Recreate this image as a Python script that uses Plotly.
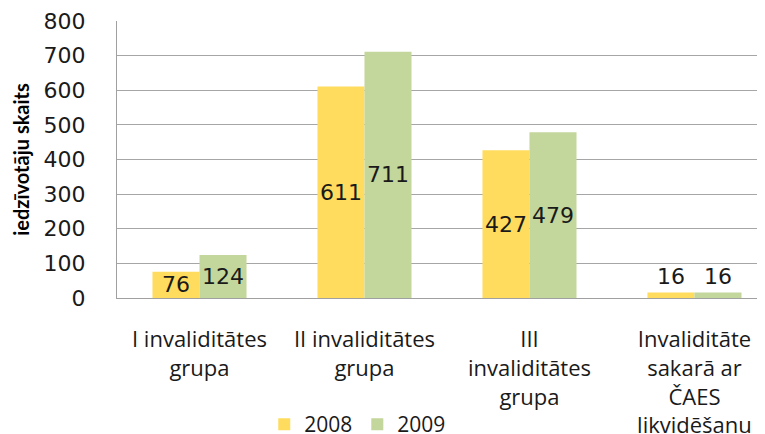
import plotly.graph_objects as go

categories = ["I invaliditātes<br>grupa", "II invaliditātes<br>grupa",
              "III<br>invaliditātes<br>grupa",
              "Invaliditāte<br>sakarā ar<br>ČAES<br>likvidēšanu"]
values_2008 = [76, 611, 427, 16]
values_2009 = [124, 711, 479, 16]
series_names = ["2008", "2009"]
y_ticks = [0, 100, 200, 300, 400, 500, 600, 700, 800]

x_idx = list(range(len(categories)))
text_pos = ["inside", "inside", "inside", "outside"]
label_font = dict(family="DejaVu Sans", size=22, color="#1a1a1a")

fig = go.Figure()
fig.add_trace(go.Bar(x=x_idx, y=values_2008, name=series_names[0],
                     marker=dict(color="#FFDC5E", line=dict(width=0)),
                     text=values_2008, textposition=text_pos, textangle=0,
                     insidetextanchor="middle", constraintext="none",
                     textfont=label_font, cliponaxis=False))
fig.add_trace(go.Bar(x=x_idx, y=values_2009, name=series_names[1],
                     marker=dict(color="#C3D69B", line=dict(width=0)),
                     text=values_2009, textposition=text_pos, textangle=0,
                     insidetextanchor="middle", constraintext="none",
                     textfont=label_font, cliponaxis=False))

fig.update_layout(
    width=765, height=434,
    margin=dict(l=109, r=0, t=13, b=144),
    paper_bgcolor="white", plot_bgcolor="white",
    barmode="group", bargap=0.43, bargroupgap=0,
    showlegend=True,
    legend=dict(orientation="h", xref="container", yref="container",
                x=0.335, xanchor="left", y=0.04, yanchor="middle",
                font=dict(family="Open Sans", size=21, color="#1a1a1a"),
                itemwidth=30, traceorder="normal"),
    xaxis=dict(range=[-0.5, 3.476], tickmode="array", tickvals=x_idx, ticktext=categories,
               showgrid=False, showline=True, linecolor="#A0A0A0", linewidth=1,
               ticks="", tickfont=dict(family="Open Sans", size=22, color="#1a1a1a"),
               ticklabelstandoff=22, zeroline=False, automargin=False),
    yaxis=dict(range=[0, 800], tickmode="array", tickvals=y_ticks,
               showgrid=True, gridcolor="#A6A6A6", gridwidth=1,
               showline=True, linecolor="#A0A0A0", linewidth=1,
               ticks="", zeroline=False, automargin=False,
               tickfont=dict(family="DejaVu Sans", size=22, color="#1a1a1a"),
               ticklabelstandoff=26,
               title=dict(text="<b>iedzīvotāju skaits</b>",
                          font=dict(family="Lato", size=20, color="#000000"),
                          standoff=8)),
)

fig.write_html("out.html")
